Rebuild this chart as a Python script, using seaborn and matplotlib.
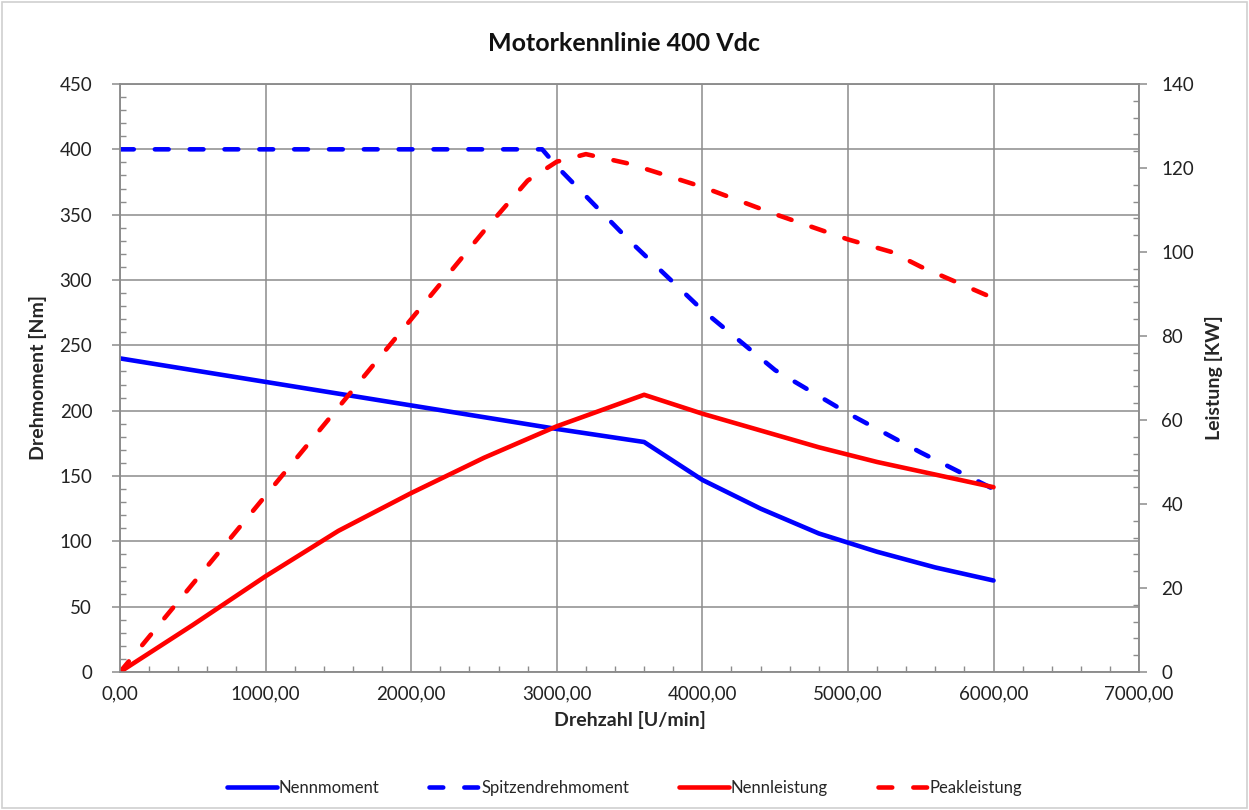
import matplotlib
matplotlib.use("Agg")
import matplotlib.pyplot as plt
from matplotlib.ticker import MultipleLocator, FuncFormatter
from matplotlib.patches import Rectangle
import pandas as pd
import seaborn as sns

# Drehzahl [U/min] und Kennwerte
nenn_n = [0, 500, 1000, 1500, 2000, 2500, 3000, 3600, 4000, 4400, 4800, 5200, 5600, 6000]
nennmoment = [240, 231, 222, 213, 204, 195, 186, 176, 147, 125, 106, 92, 80, 70]
nennleistung = [0, 11.2, 22.8, 33.6, 42.6, 51, 58.5, 66, 61.5, 57.5, 53.5, 50, 47, 44]

spitz_n = [0, 500, 1000, 1500, 2000, 2500, 2900, 3000, 3500, 4000, 4500, 5000, 5500, 6000]
spitzendrehmoment = [400, 400, 400, 400, 400, 400, 400, 387, 330, 277, 231, 198, 168, 140]

peak_n = [0, 500, 1000, 1500, 2000, 2500, 2800, 3000, 3200, 3500, 4000, 4500, 5000, 5300, 5500, 6000]
peakleistung = [0, 21, 42, 63, 84, 105, 117, 121.5, 123.3, 121, 115.5, 109, 103, 100, 96.5, 89]

sns.set_style("white")
plt.rcParams["font.family"] = ["Lato", "DejaVu Sans"]

fig = plt.figure(figsize=(12.49, 8.10), dpi=100)
ax = fig.add_axes([0.0961, 0.1704, 0.8159, 0.7259])
ax2 = ax.twinx()

df_nm = pd.DataFrame({"n": nenn_n, "M": nennmoment, "P": nennleistung})
df_sp = pd.DataFrame({"n": spitz_n, "M": spitzendrehmoment})
df_pk = pd.DataFrame({"n": peak_n, "P": peakleistung})

lw = 3.3
dash = [3.0, 4.6]
sns.lineplot(data=df_nm, x="n", y="M", ax=ax, color="#0000ff", lw=lw, label="Nennmoment", legend=False)
sns.lineplot(data=df_sp, x="n", y="M", ax=ax, color="#0000ff", lw=lw, label="Spitzendrehmoment", legend=False)
ax.lines[-1].set_dashes(dash)
sns.lineplot(data=df_nm, x="n", y="P", ax=ax2, color="#ff0000", lw=lw, label="Nennleistung", legend=False)
sns.lineplot(data=df_pk, x="n", y="P", ax=ax2, color="#ff0000", lw=lw, label="Peakleistung", legend=False)
ax2.lines[-1].set_dashes(dash)
for ln in ax.lines + ax2.lines:
    ln.set_solid_capstyle("round")
    ln.set_dash_capstyle("round")

grid_c = "#8c8c8c"
ax.set_xlim(0, 7000)
ax.set_ylim(0, 450)
ax2.set_ylim(0, 140)
ax.xaxis.set_major_locator(MultipleLocator(1000))
ax.xaxis.set_minor_locator(MultipleLocator(200))
ax.yaxis.set_major_locator(MultipleLocator(50))
ax.yaxis.set_minor_locator(MultipleLocator(10))
ax2.yaxis.set_major_locator(MultipleLocator(20))
ax2.yaxis.set_minor_locator(MultipleLocator(4))
ax.xaxis.set_major_formatter(FuncFormatter(lambda v, p: f"{v:.2f}".replace(".", ",")))
ax.grid(True, which="major", color=grid_c, lw=1.1)
ax.set_axisbelow(True)

for a in (ax, ax2):
    for s in a.spines.values():
        s.set_color(grid_c)
        s.set_linewidth(1.1)
    a.tick_params(which="major", direction="out", length=6, color=grid_c, width=1.1,
                  labelsize=13.5, labelcolor="#222222")
    a.tick_params(which="minor", direction="in", length=4, color=grid_c, width=1.0)
ax.tick_params(axis="y", which="minor", left=True)
ax.tick_params(axis="x", which="minor", bottom=True)
ax2.tick_params(axis="y", which="minor", right=True)
ax.tick_params(axis="y", pad=14)
ax2.tick_params(axis="y", pad=10)

ax.set_xlabel("Drehzahl [U/min]", fontsize=14, fontweight="bold", labelpad=6)
ax.set_ylabel("Drehmoment [Nm]", fontsize=14, fontweight="bold", labelpad=9)
ax2.set_ylabel("Leistung [KW]", fontsize=14, fontweight="bold", labelpad=8)
fig.suptitle("Motorkennlinie 400 Vdc", y=0.96, fontsize=18, fontweight="bold", color="#111111")

h1, l1 = ax.get_legend_handles_labels()
h2, l2 = ax2.get_legend_handles_labels()
fig.legend(h1 + h2, l1 + l2, loc="center", bbox_to_anchor=(0.5, 0.027), ncol=4,
           frameon=False, fontsize=12, handlelength=3.0, columnspacing=3.0, handletextpad=0.1)

fig.patches.append(Rectangle((0.002, 0.002), 0.996, 0.996, transform=fig.transFigure,
                             fill=False, edgecolor="#d0d0d0", lw=1.2))

fig.savefig("out.png", dpi=100)
